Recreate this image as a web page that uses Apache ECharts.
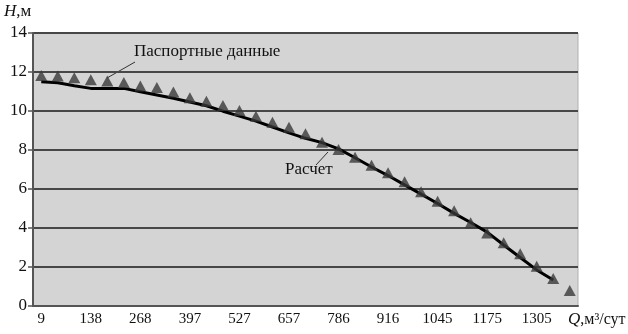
<!DOCTYPE html>
<html><head><meta charset="utf-8">
<script src="https://cdn.jsdelivr.net/npm/echarts@6/dist/echarts.min.js"></script>
<style>html,body{margin:0;padding:0;background:#fff}#c{width:628px;height:334px}</style>
</head><body><div id="c"></div>
<script>
var categories = [9,52,95,138,181,225,268,311,354,397,440,484,527,570,614,657,700,743,786,830,873,916,959,1002,1045,1088,1132,1175,1218,1261,1305,1348,1391];
var passportValues = [11.82,11.8,11.7,11.6,11.54,11.46,11.28,11.2,10.97,10.68,10.5,10.28,10.03,9.73,9.42,9.17,8.83,8.4,8.03,7.63,7.22,6.83,6.37,5.86,5.37,4.88,4.27,3.75,3.24,2.68,2.04,1.41,0.79];
var calcValues = [11.5,11.45,11.3,11.16,11.16,11.16,10.99,10.82,10.65,10.46,10.27,9.99,9.74,9.48,9.18,8.88,8.6,8.38,8.06,7.6,7.13,6.69,6.21,5.74,5.26,4.75,4.28,3.79,3.13,2.49,1.85,1.33,null];
var yTicks = [0,2,4,6,8,10,12,14];
var passportName = 'Паспортные данные';
var calcName = 'Расчет';

var serif = '"Liberation Serif","DejaVu Serif",serif';
var chart = echarts.init(document.getElementById('c'));
chart.setOption({
  animation: false,
  backgroundColor: '#fff',
  grid: {left: 33, right: 50, top: 33, bottom: 28, show: true, backgroundColor: '#d4d4d4', borderColor: '#b0b0b0', borderWidth: 1},
  xAxis: {
    type: 'category', data: categories, boundaryGap: true,
    axisLine: {lineStyle: {color: '#555', width: 2}},
    axisTick: {interval: 0, length: 5, lineStyle: {color: '#555', width: 1.5}},
    axisLabel: {interval: 2, fontFamily: serif, fontSize: 15, color: '#111', margin: 6},
    splitLine: {show: false}
  },
  yAxis: {
    type: 'value', min: yTicks[0], max: yTicks[yTicks.length-1], interval: 2,
    axisLine: {show: true, lineStyle: {color: '#555', width: 2}},
    axisTick: {show: true, length: 5, lineStyle: {color: '#555', width: 1.5}},
    axisLabel: {fontFamily: serif, fontSize: 17, color: '#111', margin: 6},
    splitLine: {lineStyle: {color: '#474747', width: 2}}
  },
  series: [
    {name: calcName, type: 'line', data: calcValues, symbol: 'none', z: 2,
     lineStyle: {color: '#000', width: 3}},
    {name: passportName, type: 'scatter', data: passportValues, symbol: 'triangle', symbolSize: [12, 11], z: 3,
     itemStyle: {color: '#383838'}}
  ],
  graphic: [
    {type: 'text', left: 4, top: 3, style: {text: '{i|H},м', rich: {i: {fontStyle: 'italic', fontFamily: serif, fontSize: 17, fill: '#111'}}, fontFamily: serif, fontSize: 17, fill: '#111'}},
    {type: 'text', left: 568, top: 311, style: {text: '{i|Q},м³/сут', rich: {i: {fontStyle: 'italic', fontFamily: serif, fontSize: 17, fill: '#111'}}, fontFamily: serif, fontSize: 16, fill: '#111'}},
    {type: 'text', left: 134, top: 43, style: {text: passportName, fontFamily: serif, fontSize: 17, fill: '#111'}},
    {type: 'line', shape: {x1: 135, y1: 62, x2: 107, y2: 78}, style: {stroke: '#333', lineWidth: 1}},
    {type: 'text', left: 285, top: 161, style: {text: calcName, fontFamily: serif, fontSize: 17, fill: '#111'}},
    {type: 'line', shape: {x1: 316, y1: 165, x2: 328, y2: 152}, style: {stroke: '#333', lineWidth: 1}}
  ]
});
</script></body></html>
